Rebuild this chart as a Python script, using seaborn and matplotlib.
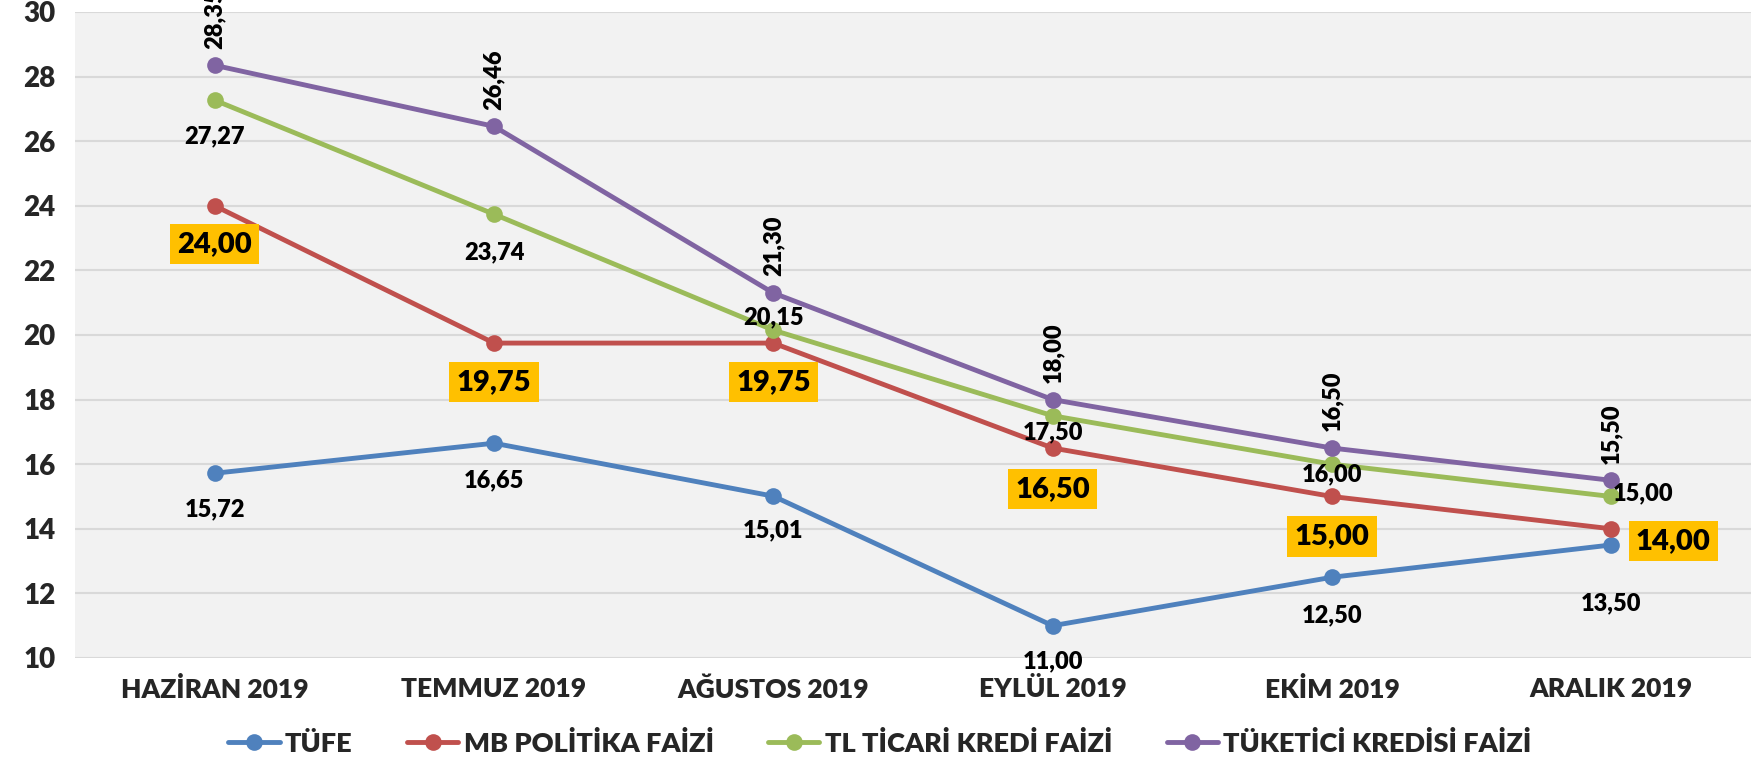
import matplotlib
matplotlib.use("Agg")
import matplotlib.pyplot as plt
import pandas as pd
import seaborn as sns

months = ["HAZİRAN 2019", "TEMMUZ 2019", "AĞUSTOS 2019", "EYLÜL 2019", "EKİM 2019", "ARALIK 2019"]
tufe = [15.72, 16.65, 15.01, 11.00, 12.50, 13.50]
mb_faiz = [24.00, 19.75, 19.75, 16.50, 15.00, 14.00]
ticari = [27.27, 23.74, 20.15, 17.50, 16.00, 15.00]
tuketici = [28.35, 26.46, 21.30, 18.00, 16.50, 15.50]
series_names = ["TÜFE", "MB POLİTİKA FAİZİ", "TL TİCARİ KREDİ FAİZİ", "TÜKETİCİ KREDİSİ FAİZİ"]

colors = ["#4F81BD", "#C0504D", "#9BBB59", "#8064A2"]

# label offsets in pixels (dx, dy), one list per series
label_offsets = [
    [(0, -36), (0, -37), (0, -34), (0, -36), (0, -38), (0, -58)],
    [(0, -38), (0, -39), (0, -39), (0, -41), (0, -40), (62, -12)],
    [(0, -36), (0, -38), (0, 13), (0, -17), (0, -10), (32, 3)],
    [(0, 47), (0, 47), (0, 47), (0, 47), (0, 47), (0, 47)],
]

sns.set_theme(style="white")
plt.rcParams["font.family"] = ["Lato", "DejaVu Sans"]
plt.rcParams["font.weight"] = "heavy"

df = pd.DataFrame({"ay": months * 4,
                   "deger": tufe + mb_faiz + ticari + tuketici,
                   "seri": sum([[n] * len(months) for n in series_names], [])})

fig = plt.figure(figsize=(17.6, 7.62), dpi=100)
ax = fig.add_axes([75 / 1760, 1 - 658 / 762, (1751 - 75) / 1760, (658 - 12) / 762])
ax.set_facecolor("#F2F2F2")

sns.lineplot(data=df, x="ay", y="deger", hue="seri", hue_order=series_names,
             palette=colors, marker="o", markersize=12, markeredgewidth=0,
             linewidth=3.5, sort=False, ax=ax)

ax.set_ylim(10, 30)
ax.set_xlim(-0.5, len(months) - 0.5)
ax.set_yticks(range(10, 31, 2))
ax.grid(axis="y", color="#D9D9D9", linewidth=1.5)
ax.set_axisbelow(True)
for s in ax.spines.values():
    s.set_visible(False)
ax.tick_params(axis="x", length=0, labelsize=19, pad=14)
ax.tick_params(axis="y", length=0, labelsize=20, pad=14)
ax.set_xlabel("")
ax.set_ylabel("")
for t in ax.get_xticklabels() + ax.get_yticklabels():
    t.set_fontweight("heavy")

all_vals = [tufe, mb_faiz, ticari, tuketici]
for k, vals in enumerate(all_vals):
    for i, v in enumerate(vals):
        dx, dy = label_offsets[k][i]
        txt = f"{v:.2f}".replace(".", ",")
        kw = dict(textcoords="offset pixels", xytext=(dx, dy),
                  ha="center", va="center", fontweight="heavy", color="black",
                  annotation_clip=False)
        if k == 1:
            ax.annotate(txt, (i, v), fontsize=21,
                        bbox=dict(boxstyle="square,pad=0.25", fc="#FFC000", ec="none"), **kw)
        elif k == 3:
            ax.annotate(txt, (i, v), fontsize=17, rotation=90, **kw)
        else:
            ax.annotate(txt, (i, v), fontsize=17, **kw)

handles, labels = ax.get_legend_handles_labels()
ax.legend(handles, labels, loc="center", bbox_to_anchor=(0.5, 1 - 743 / 762),
          bbox_transform=fig.transFigure, ncol=4, frameon=False,
          prop={"size": 19.5, "weight": "heavy"}, handlelength=1.9, columnspacing=2.0,
          handletextpad=0.2)

fig.savefig("out.png", dpi=100)
